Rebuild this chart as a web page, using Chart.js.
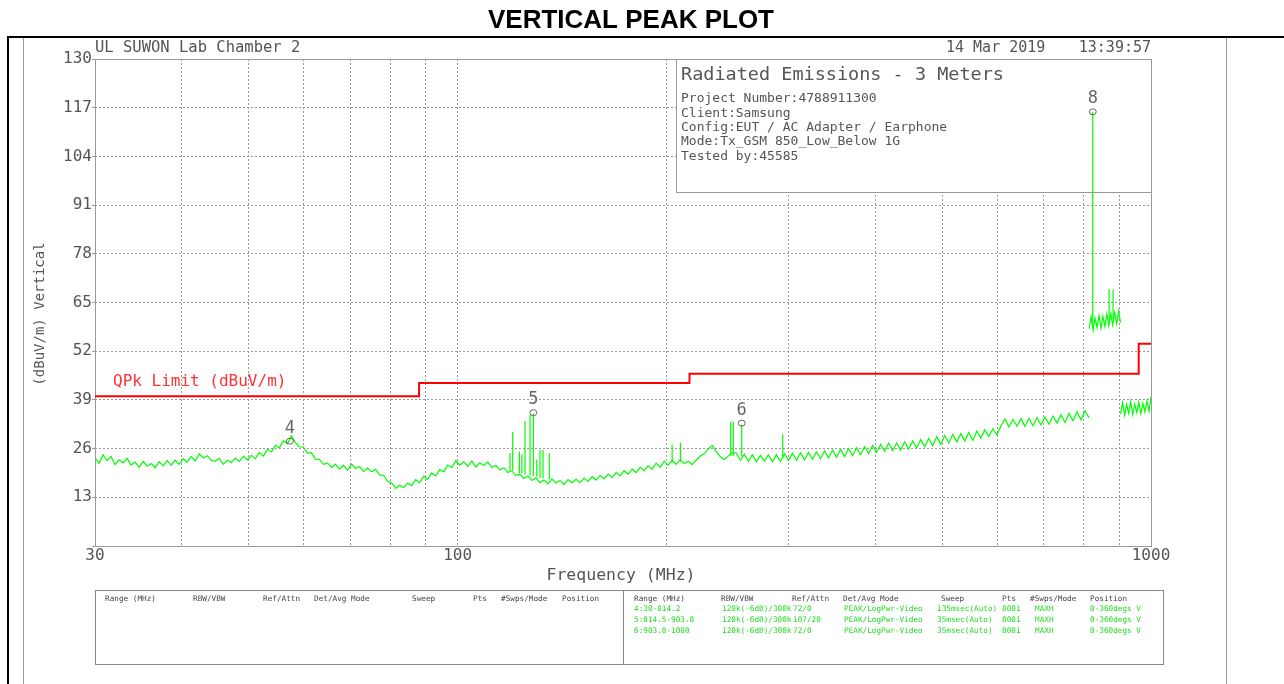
<!DOCTYPE html>
<html>
<head>
<meta charset="utf-8">
<title>Vertical Peak Plot</title>
<script src="https://cdn.jsdelivr.net/npm/chart.js@4.4.1/dist/chart.umd.min.js"></script>
<style>
  html, body { margin: 0; padding: 0; background: #fff; }
  canvas { display: block; }
</style>
</head>
<body>
<canvas id="peakChart" width="1284" height="684"></canvas>
<script>
// sweep ranges in MHz (one per analyzer range)
const range4 = [30, 814.2];
const range5 = [814.5, 903.8];
const range6 = [903.8, 1000];

// peak trace, dBuV/m left to right
const trace4 = [
  23.6, 22.1, 24.3, 22.8, 23.9, 21.7, 23.0, 22.2, 23.4, 21.6,
  22.4, 21.0, 22.6, 21.3, 22.0, 20.9, 22.5, 21.4, 22.8, 21.6,
  22.9, 21.8, 23.3, 22.4, 23.9, 22.7, 24.6, 23.5, 24.1, 22.9,
  22.6, 23.4, 21.8, 22.9, 22.3, 23.5, 22.6, 23.9, 23.0, 24.2,
  23.3, 24.9, 24.0, 25.8, 25.1, 26.9, 26.2, 28.1, 27.3, 29.4,
  27.6, 26.5, 26.4, 24.8, 24.9, 23.2, 23.1, 21.8, 22.2, 21.0,
  21.8, 20.6, 21.5, 20.2, 21.9, 20.7, 21.2, 19.9, 20.8, 19.8,
  20.5, 19.0, 18.9, 17.2, 16.9, 15.4, 16.2, 15.6, 16.8, 16.1,
  17.7, 16.9, 18.6, 17.8, 19.5, 18.7, 20.4, 19.8, 21.6, 20.9,
  22.8, 21.6, 22.5, 21.3, 22.7, 21.1, 22.2, 21.5, 22.4, 21.0,
  21.5, 20.3, 20.9, 19.6, 20.1, 18.8, 19.2, 18.0, 18.7, 17.5,
  18.2, 16.9, 17.6, 16.6, 17.9, 16.8, 17.5, 16.4, 17.7, 16.9,
  17.8, 16.9, 18.1, 17.3, 18.5, 17.6, 18.8, 17.9, 19.2, 18.3,
  19.6, 18.7, 20.1, 19.2, 20.5, 19.6, 21.0, 20.1, 21.4, 20.5,
  22.1, 21.0, 22.6, 21.6, 22.9, 21.8, 23.0, 22.0, 22.6, 21.7,
  22.9, 24.0, 24.6, 25.9, 26.8, 25.2, 23.8, 23.1, 24.0, 25.0,
  24.8, 22.9, 24.5, 22.6, 24.4, 22.5, 24.2, 22.7, 24.3, 22.5,
  24.4, 22.6, 24.6, 22.8, 24.8, 22.9, 24.9, 23.0, 25.0, 23.2,
  25.1, 23.3, 25.4, 23.5, 25.6, 23.7, 25.8, 23.9, 26.0, 24.1,
  26.2, 24.4, 26.5, 24.7, 26.8, 25.0, 27.1, 25.3, 27.5, 25.5,
  27.5, 25.6, 27.8, 25.9, 28.0, 26.2, 28.4, 26.5, 28.7, 26.8,
  29.2, 27.2, 29.5, 27.5, 29.8, 27.8, 30.0, 28.0, 30.3, 28.2,
  30.7, 28.8, 31.0, 29.2, 31.3, 29.7, 32.0, 33.9, 31.8, 33.8,
  32.0, 34.0, 31.9, 34.1, 32.1, 34.3, 32.3, 34.4, 32.5, 34.7,
  32.8, 35.0, 33.0, 35.4, 33.4, 35.8, 33.7, 36.1, 34.2
];
const trace5 = [
  58.0, 61.2, 57.6, 60.8, 58.3, 61.5, 58.1, 61.3, 58.6,
  61.9, 58.8, 62.0, 59.0, 62.3, 59.3, 62.6, 59.6
];
const trace6 = [
  35.2, 38.3, 34.9, 37.8, 35.4, 38.6, 35.1, 37.9,
  35.6, 38.4, 35.3, 38.1, 35.8, 38.7, 36.0, 39.8
];

// narrow emissions standing above the noise floor
const spikeFreqs = [119.0, 120.1, 122.8, 123.8, 125.1, 127.2, 128.6, 130.1, 131.5, 132.8,
  135.6, 203.9, 209.6, 247.7, 249.8, 256.9, 294.4, 824.2, 870.0, 881.6];
const spikeBases = [20.0, 20.2, 19.5, 19.4, 19.0, 18.8, 18.7, 18.5, 18.2, 18.0,
  17.8, 22.3, 22.5, 24.0, 24.0, 23.8, 23.6, 58.6, 60.2, 60.5];
const spikeTops = [24.8, 30.5, 25.2, 24.4, 33.4, 35.0, 35.4, 23.1, 25.6, 25.6,
  24.8, 27.0, 27.5, 33.2, 33.2, 32.4, 29.8, 115.9, 68.6, 68.5];

// QPk limit steps (level holds from each edge to the next)
const limitEdges = [30, 88, 216, 960, 1000];
const limitLevels = [40, 43.5, 46, 54, 54];

// marker positions
const markerFreqs = [57.3, 128.6, 256.9, 824.2];
const markerLevels = [28.0, 35.6, 32.8, 115.9];
const markerLabels = ["4", "5", "6", "8"];

const xGridFreqs = [30, 40, 50, 60, 70, 80, 90, 100, 200, 300, 400, 500, 600, 700, 800, 900, 1000];
const xLabelFreqs = [30, 100, 1000];
const yMin = 0, yMax = 130, yStep = 13;

const infoTitle = "Radiated Emissions - 3 Meters";
const infoLines = [
  "Project Number:4788911300",
  "Client:Samsung",
  "Config:EUT / AC Adapter / Earphone",
  "Mode:Tx_GSM 850_Low_Below 1G",
  "Tested by:45585"
];

const tableHeaders = ["Range (MHz)", "RBW/VBW", "Ref/Attn", "Det/Avg Mode", "Sweep", "Pts", "#Swps/Mode", "Position"];
const tableRows = [
  ["4:30-814.2", "120k(-6dB)/300k", "72/0", "PEAK/LogPwr-Video", "135msec(Auto)", "8001", "MAXH", "0-360degs V"],
  ["5:814.5-903.8", "120k(-6dB)/300k", "107/20", "PEAK/LogPwr-Video", "35msec(Auto)", "8001", "MAXH", "0-360degs V"],
  ["6:903.8-1000", "120k(-6dB)/300k", "72/0", "PEAK/LogPwr-Video", "35msec(Auto)", "8001", "MAXH", "0-360degs V"]
];

const MONO = '"DejaVu Sans Mono", "Liberation Mono", monospace';
const SANS = '"Liberation Sans", Arial, sans-serif';
const GREY_TEXT = "#555";

// analyzer bins are spread over the range, log spaced like the display
function sweepPoints(range, values) {
  const [start, stop] = range;
  const last = values.length - 1;
  return values.map((v, i) => ({ x: start * Math.pow(stop / start, i / last), y: v }));
}

const spikeData = [];
spikeFreqs.forEach((f, i) => {
  spikeData.push({ x: f, y: spikeBases[i] }, { x: f, y: spikeTops[i] }, { x: f, y: null });
});

function text(ctx, str, x, y, size, color, align, font, weight) {
  ctx.font = (weight ? weight + " " : "") + size + "px " + (font || MONO);
  ctx.fillStyle = color;
  ctx.textAlign = align || "left";
  ctx.textBaseline = "middle";
  ctx.fillText(str, x, y);
}

const decorations = {
  id: "decorations",
  beforeDatasetsDraw(chart) {
    const { ctx, chartArea: a } = chart;
    ctx.save();
    // plot frame
    ctx.strokeStyle = "#999";
    ctx.lineWidth = 1;
    ctx.strokeRect(a.left + 0.5, a.top + 0.5, a.right - a.left, a.bottom - a.top);

    // info box in the upper right of the plot
    const bx = 676, by = a.top, bw = a.right - 676, bh = 133;
    ctx.fillStyle = "#fff";
    ctx.fillRect(bx, by, bw, bh);
    ctx.strokeRect(bx + 0.5, by + 0.5, bw, bh);
    text(ctx, infoTitle, 681, 75, 18.5, GREY_TEXT);
    infoLines.forEach((line, i) => text(ctx, line, 681, 99 + i * 14.3, 13, GREY_TEXT));
    ctx.restore();
  },
  afterDatasetsDraw(chart) {
    const { ctx, scales } = chart;
    ctx.save();
    markerFreqs.forEach((f, i) => {
      const x = scales.x.getPixelForValue(f);
      const y = scales.y.getPixelForValue(markerLevels[i]);
      ctx.strokeStyle = "#666";
      ctx.lineWidth = 1;
      ctx.beginPath();
      ctx.ellipse(x, y, 3.5, 3, 0, 0, Math.PI * 2);
      ctx.stroke();
      text(ctx, markerLabels[i], x, y - 13, 17, "#666", "center");
    });
    ctx.restore();
  },
  afterDraw(chart) {
    const { ctx, chartArea: a } = chart;
    ctx.save();
    // page frame
    ctx.fillStyle = "#000";
    ctx.fillRect(8, 36, 1284 - 8, 2);
    ctx.fillRect(7, 36, 2, 684 - 36);
    ctx.fillStyle = "#999";
    ctx.fillRect(23, 38, 1, 684 - 38);
    ctx.fillRect(1226, 38, 1, 684 - 38);

    text(ctx, "VERTICAL PEAK PLOT", 631, 21, 26, "#000", "center", SANS, "bold");

    text(ctx, "UL SUWON Lab Chamber 2", a.left, 48, 15.5, GREY_TEXT);
    text(ctx, "14 Mar 2019", 946, 48, 15, GREY_TEXT);
    text(ctx, "13:39:57", a.right, 48, 15, GREY_TEXT, "right");

    text(ctx, "QPk Limit (dBuV/m)", 113, 382, 16, "#f33");
    text(ctx, "Frequency (MHz)", 621, 576, 16.5, GREY_TEXT, "center");

    ctx.save();
    ctx.translate(40, 314);
    ctx.rotate(-Math.PI / 2);
    text(ctx, "(dBuV/m) Vertical", 0, 0, 14, GREY_TEXT, "center");
    ctx.restore();

    // settings table
    ctx.strokeStyle = "#888";
    ctx.lineWidth = 1;
    ctx.strokeRect(95.5, 590.5, 1068, 74);
    ctx.beginPath();
    ctx.moveTo(623.5, 590.5);
    ctx.lineTo(623.5, 664.5);
    ctx.stroke();
    const leftCols = [105, 193, 263, 314, 412, 473, 501, 562];
    const rightCols = [634, 721, 792, 843, 941, 1002, 1030, 1090];
    const rowCols = [634, 722, 793, 844, 937, 1002, 1035, 1090];
    tableHeaders.forEach((h, i) => {
      text(ctx, h, leftCols[i], 599, 7.7, "#444");
      text(ctx, h, rightCols[i], 599, 7.7, "#444");
    });
    tableRows.forEach((row, r) => {
      row.forEach((cell, i) => text(ctx, cell, rowCols[i], 609.5 + r * 10.8, 7.7, "#2d2"));
    });
    ctx.restore();
  }
};

const traceStyle = { borderColor: "#00ff00", borderWidth: 1.2, pointRadius: 0, fill: false, tension: 0 };

const chart = new Chart(document.getElementById("peakChart").getContext("2d"), {
  type: "line",
  data: {
    datasets: [
      {
        label: "QPk Limit",
        data: limitEdges.map((f, i) => ({ x: f, y: limitLevels[i] })),
        stepped: "before",
        borderColor: "#ff0000",
        borderWidth: 2,
        pointRadius: 0,
        order: 0
      },
      { label: "Spikes", data: spikeData, spanGaps: false, order: 1, ...traceStyle },
      { label: "Range 4", data: sweepPoints(range4, trace4), order: 2, ...traceStyle },
      { label: "Range 5", data: sweepPoints(range5, trace5), order: 2, ...traceStyle },
      { label: "Range 6", data: sweepPoints(range6, trace6), order: 2, ...traceStyle }
    ]
  },
  options: {
    responsive: false,
    animation: false,
    layout: { padding: { left: 0, right: 133, top: 59, bottom: 0 } },
    plugins: { legend: { display: false }, tooltip: { enabled: false } },
    scales: {
      x: {
        type: "logarithmic",
        min: 30,
        max: 1000,
        afterBuildTicks: (scale) => {
          scale.ticks = xGridFreqs.map(v => ({ value: v }));
        },
        afterFit: (scale) => { scale.height = 138; },
        grid: { color: "#999", drawTicks: false },
        border: { display: false, dash: [2, 2] },
        ticks: {
          autoSkip: false,
          maxRotation: 0,
          minRotation: 0,
          padding: 0,
          color: GREY_TEXT,
          font: { family: MONO, size: 16 },
          callback: (value) => xLabelFreqs.includes(value) ? String(value) : ""
        }
      },
      y: {
        min: yMin,
        max: yMax,
        afterFit: (scale) => { scale.width = 95; },
        grid: { color: "#999", tickLength: 3, tickColor: "#999" },
        border: { display: false, dash: [2, 2] },
        ticks: {
          stepSize: yStep,
          padding: 0,
          color: GREY_TEXT,
          font: { family: MONO, size: 16 },
          callback: (value) => value === 0 ? "" : String(value)
        }
      }
    }
  },
  plugins: [decorations]
});
</script>
</body>
</html>
